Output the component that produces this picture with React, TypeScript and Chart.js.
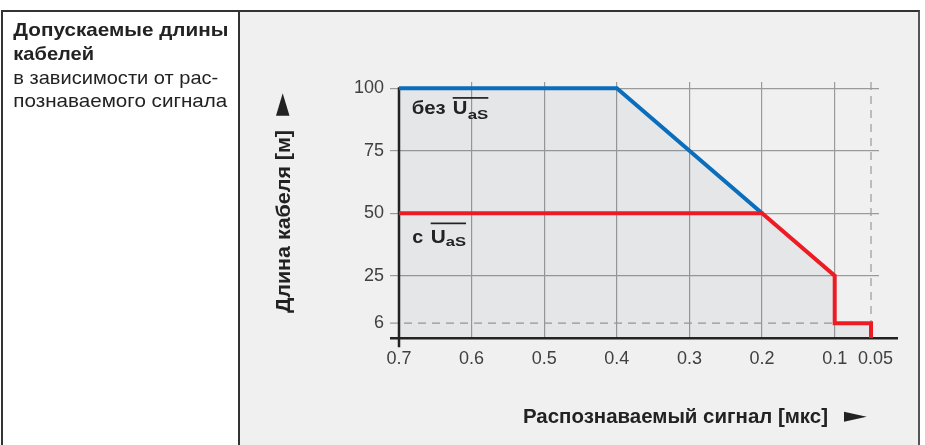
import React, { useEffect, useRef } from "react";
import { Chart, registerables } from "chart.js";

Chart.register(...registerables);

// ---- data ----
const xTickValues = [0.7, 0.6, 0.5, 0.4, 0.3, 0.2, 0.1, 0.05];
const xTickLabels = ["0.7", "0.6", "0.5", "0.4", "0.3", "0.2", "0.1", "0.05"];
const yTickValues = [6, 25, 50, 75, 100];
const yTickLabels = ["6", "25", "50", "75", "100"];

const blueX = [0.7, 0.4, 0.2];
const blueY = [100, 100, 50];
const redX = [0.7, 0.2, 0.1, 0.1, 0.05, 0.05];
const redY = [50, 50, 25, 6, 6, 0];
const areaX = [0.7, 0.4, 0.2, 0.1, 0.1, 0.05, 0.05];
const areaY = [100, 100, 50, 25, 6, 6, 0];

const dashedY = 6;
const dashedYEndX = 0.1;
const dashedX = 0.05;

const yTitle = "Длина кабеля [м]";
const xTitle = "Распознаваемый сигнал [мкс]";
const labelWithout = "без";
const labelWith = "с";
const uText = "U";
const subText = "aS";

const headTitle = ["Допускаемые длины", "кабелей"];
const headText = ["в зависимости от рас-", "познаваемого сигнала"];

const FONT = "'Liberation Sans', Arial, Helvetica, sans-serif";

const toPts = (xs: number[], ys: number[]) => xs.map((x, i) => ({ x, y: ys[i] }));

// draw text left-aligned on baseline, stretched horizontally to a target width
function fitText(ctx: CanvasRenderingContext2D, text: string, x: number, y: number, w: number, font: string) {
  ctx.font = font;
  ctx.textAlign = "left";
  ctx.textBaseline = "alphabetic";
  const nat = ctx.measureText(text).width || 1;
  ctx.save();
  ctx.translate(x, y);
  ctx.scale(w / nat, 1);
  ctx.fillText(text, 0, 0);
  ctx.restore();
}

export default function App() {
  const ref = useRef<HTMLCanvasElement | null>(null);

  useEffect(() => {
    const canvas = ref.current;
    if (!canvas) return;

    const overlay = {
      id: "overlay",
      beforeDatasetsDraw(chart: any) {
        const ctx = chart.ctx;
        const xs = chart.scales.x;
        const ys = chart.scales.y;
        const top = chart.chartArea.top;
        ctx.save();
        ctx.strokeStyle = "#9a9a9a";
        ctx.lineWidth = 1.2;
        ctx.setLineDash([8, 6]);
        ctx.beginPath();
        ctx.moveTo(xs.getPixelForValue(0.7) - 9, ys.getPixelForValue(dashedY));
        ctx.lineTo(xs.getPixelForValue(dashedYEndX), ys.getPixelForValue(dashedY));
        ctx.stroke();
        ctx.beginPath();
        ctx.moveTo(xs.getPixelForValue(dashedX), top);
        ctx.lineTo(xs.getPixelForValue(dashedX), ys.getPixelForValue(0));
        ctx.stroke();
        ctx.setLineDash([]);
        ctx.strokeStyle = "#222";
        ctx.lineWidth = 2.5;
        const x0 = xs.getPixelForValue(0.7);
        const y0 = ys.getPixelForValue(0);
        ctx.beginPath();
        ctx.moveTo(x0 - 9, y0);
        ctx.lineTo(chart.chartArea.right + 19, y0);
        ctx.stroke();
        ctx.beginPath();
        ctx.moveTo(x0, ys.getPixelForValue(100) - 1);
        ctx.lineTo(x0, y0 + 9);
        ctx.stroke();
        ctx.restore();
      },
      afterDraw(chart: any) {
        const ctx = chart.ctx as CanvasRenderingContext2D;
        const xs = chart.scales.x;
        const ys = chart.scales.y;
        const x0 = xs.getPixelForValue(0.7);
        const y100 = ys.getPixelForValue(100);
        const y50 = ys.getPixelForValue(50);
        ctx.save();
        ctx.fillStyle = "#222";

        // left cell header
        fitText(ctx, headTitle[0], 13.3, 36, 215, `bold 19px ${FONT}`);
        fitText(ctx, headTitle[1], 13.3, 59.7, 80.7, `bold 19px ${FONT}`);
        fitText(ctx, headText[0], 13.3, 83.6, 205, `19px ${FONT}`);
        fitText(ctx, headText[1], 13.3, 107.3, 214, `19px ${FONT}`);

        // inline label "без U_aS"
        fitText(ctx, labelWithout, x0 + 12.7, y100 + 26.1, 34, `bold 18px ${FONT}`);
        fitText(ctx, uText, x0 + 53.7, y100 + 26.1, 14.6, `bold 18px ${FONT}`);
        fitText(ctx, subText, x0 + 68.7, y100 + 30.6, 20.6, `bold 13px ${FONT}`);
        ctx.fillRect(x0 + 53.7, y100 + 8.8, 35.6, 1.7);

        // inline label "с U_aS"
        fitText(ctx, labelWith, x0 + 13.3, y50 + 29.5, 11, `bold 18px ${FONT}`);
        fitText(ctx, uText, x0 + 31.7, y50 + 29.5, 15, `bold 18px ${FONT}`);
        fitText(ctx, subText, x0 + 46.7, y50 + 32.5, 20.3, `bold 13px ${FONT}`);
        ctx.fillRect(x0 + 31.7, y50 + 9.3, 35.3, 1.7);

        // y title (rotated)
        ctx.save();
        ctx.translate(289.5, 313);
        ctx.rotate(-Math.PI / 2);
        fitText(ctx, yTitle, 0, 0, 183, `bold 20px ${FONT}`);
        ctx.restore();
        ctx.beginPath();
        ctx.moveTo(282.7, 93.3);
        ctx.lineTo(289.5, 115.7);
        ctx.lineTo(276, 115.7);
        ctx.closePath();
        ctx.fill();

        // x title
        fitText(ctx, xTitle, 523, 422.7, 305, `bold 20px ${FONT}`);
        ctx.beginPath();
        ctx.moveTo(844, 411.7);
        ctx.lineTo(866.7, 416.7);
        ctx.lineTo(844, 421.7);
        ctx.closePath();
        ctx.fill();
        ctx.restore();
      },
    };

    const chart = new Chart(canvas, {
      type: "line",
      data: {
        datasets: [
          {
            data: toPts(redX, redY),
            borderColor: "#ed1c24",
            borderWidth: 4,
            pointRadius: 0,
            tension: 0,
            fill: false,
            borderJoinStyle: "miter",
            borderCapStyle: "butt",
          },
          {
            data: toPts(blueX, blueY),
            borderColor: "#0a6ebd",
            borderWidth: 4,
            pointRadius: 0,
            tension: 0,
            fill: false,
            borderJoinStyle: "miter",
            borderCapStyle: "butt",
          },
          {
            data: toPts(areaX, areaY),
            borderWidth: 0,
            borderColor: "rgba(0,0,0,0)",
            backgroundColor: "rgba(60,76,109,0.062)",
            pointRadius: 0,
            tension: 0,
            fill: "origin",
          },
        ],
      } as any,
      options: {
        animation: false,
        responsive: false,
        devicePixelRatio: 1,
        events: [],
        layout: { padding: { left: 0, top: 82, right: 46, bottom: 0 } },
        plugins: {
          legend: { display: false },
          tooltip: { enabled: false },
          title: { display: false },
        },
        scales: {
          x: {
            type: "linear",
            reverse: true,
            min: 0.039,
            max: 0.7,
            afterBuildTicks: (s: any) => {
              s.ticks = xTickValues.map((v) => ({ value: v }));
            },
            afterFit: (s: any) => {
              s.height = 445 - 338.2;
            },
            ticks: {
              autoSkip: false,
              maxRotation: 0,
              padding: 10,
              color: "#404040",
              font: { family: FONT, size: 18 },
              callback: (_v: any, i: number) =>
                i === xTickLabels.length - 1 ? "\u2002" + xTickLabels[i] : xTickLabels[i],
            },
            grid: {
              drawTicks: false,
              lineWidth: 1.2,
              color: (c: any) =>
                c.tick && (c.tick.value === 0.7 || c.tick.value === dashedX) ? "rgba(0,0,0,0)" : "#9a9a9a",
            },
            border: { display: false },
          },
          y: {
            type: "linear",
            min: 0,
            max: 102.5,
            afterBuildTicks: (s: any) => {
              s.ticks = yTickValues.map((v) => ({ value: v }));
            },
            afterFit: (s: any) => {
              s.width = 399;
            },
            ticks: {
              padding: 6,
              color: "#404040",
              font: { family: FONT, size: 18 },
              callback: (_v: any, i: number) => yTickLabels[i],
            },
            grid: {
              drawTicks: true,
              tickLength: 9,
              lineWidth: 1.2,
              color: (c: any) => (c.tick && c.tick.value === dashedY ? "rgba(0,0,0,0)" : "#9a9a9a"),
            },
            border: { display: false },
          },
        },
      } as any,
      plugins: [overlay],
    });
    return () => chart.destroy();
  }, []);

  return (
    <div style={{ position: "absolute", left: 0, top: 0, width: 925, height: 445, background: "#fff", overflow: "hidden" }}>
      <div
        style={{
          position: "absolute",
          left: 1,
          top: 10,
          width: 919,
          height: 500,
          boxSizing: "border-box",
          borderTop: "2px solid #333",
          borderLeft: "2px solid #333",
          borderRight: "2px solid #555",
          background: "#f0f0f0",
        }}
      />
      <div
        style={{
          position: "absolute",
          left: 3,
          top: 12,
          width: 235,
          height: 440,
          background: "#fff",
          borderRight: "2px solid #333",
        }}
      />
      <canvas ref={ref} width={925} height={445} style={{ position: "absolute", left: 0, top: 0, width: 925, height: 445 }} />
    </div>
  );
}
